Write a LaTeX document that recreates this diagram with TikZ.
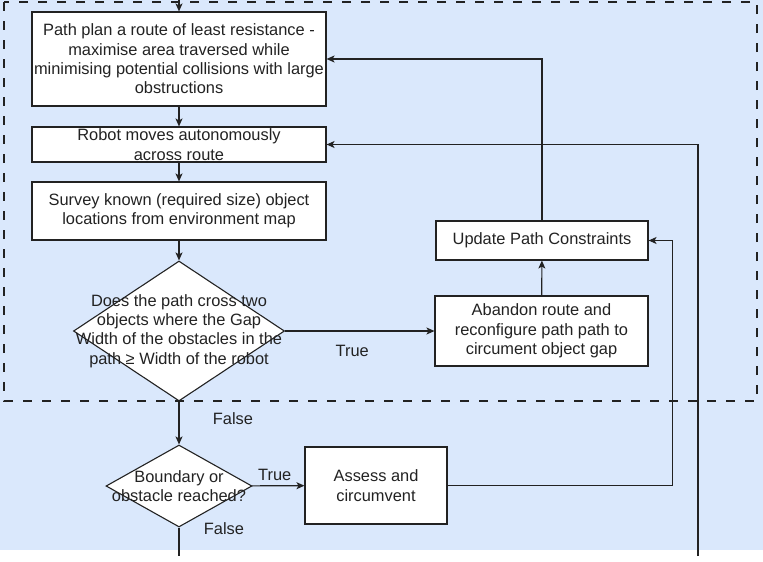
\documentclass[tikz,border=0pt]{standalone}
\usepackage{fontspec}
\setmainfont{Liberation Sans}
\usetikzlibrary{shapes.geometric,arrows.meta}
\definecolor{bgblue}{HTML}{DAE8FC}
\definecolor{ink}{HTML}{222222}
\begin{document}
\begin{tikzpicture}[x=1pt,y=-1pt,
    every node/.style={font=\fontsize{16.4}{19.3}\selectfont, text=ink},
    box/.style={draw=ink, fill=white, line width=1.1pt, align=center, inner sep=0pt},
    decision/.style={draw=ink, fill=white, line width=1.1pt, diamond, inner sep=0pt},
    flow/.style={draw=ink, line width=1.1pt},
    >={Stealth[length=8pt,width=7pt,inset=2pt]}]
    \useasboundingbox (0,0) rectangle (763,562);
    \fill[bgblue] (0,0) rectangle (763,550);
    \draw[ink, line width=1.1pt, dash pattern=on 9pt off 10pt] (4,2) rectangle (757,401);

    \coordinate (start) at (179,0);
    \node[box, minimum width=294pt, minimum height=94pt] (plan) at (179,59) {Path plan a route of least resistance -\\maximise area traversed while\\minimising potential collisions with large\\obstructions};
    \node[box, minimum width=294pt, minimum height=35pt] (move) at (179,144.5) {Robot moves autonomously\\across route};
    \node[box, minimum width=294pt, minimum height=58pt] (survey) at (179,211) {Survey known (required size) object\\locations from environment map};
    \node[decision, minimum width=211pt, minimum height=140pt, label={[align=center]center:Does the path cross two\\objects where the Gap\\Width of the obstacles in the\\path ≥ Width of the robot}] (gap) at (179,331) {};
    \node[box, minimum width=213pt, minimum height=70pt] (abandon) at (541.5,331) {Abandon route and\\reconfigure path path to\\circument object gap};
    \node[box, minimum width=212pt, minimum height=39pt] (update) at (542,240.5) {Update Path Constraints};
    \node[decision, minimum width=146pt, minimum height=82pt, label={[align=center]center:Boundary or\\obstacle reached?}] (bound) at (179,486) {};
    \node[box, minimum width=142pt, minimum height=77pt] (assess) at (376,485.5) {Assess and\\circumvent};
    \coordinate (stop) at (179,556);
    \coordinate (loopin) at (698,556);

    \draw[flow,->] (start) -- (plan);
    \draw[flow,->] (plan) -- (move);
    \draw[flow,->] (move) -- (survey);
    \draw[flow,->] (survey) -- (gap);
    \draw[flow,->] (gap) -- node[pos=0.45, below, yshift=-10pt] {True} (abandon);
    \draw[flow,->] (abandon) -- (update);
    \draw[flow,->] (update.north) |- (plan.east);
    \draw[flow,->] (gap) -- node[pos=0.39, right, xshift=30pt] {False} (bound);
    \draw[flow,->] (bound) -- node[pos=0.43, above, yshift=1pt] {True} (assess);
    \draw[flow,->] (assess.east) -- ++(225,0) |- (update.east);
    \draw[flow] (bound) -- node[pos=0.03, right, xshift=21pt] {False} (stop);
    \draw[flow,->] (loopin) |- (move.east);
\end{tikzpicture}
\end{document}
